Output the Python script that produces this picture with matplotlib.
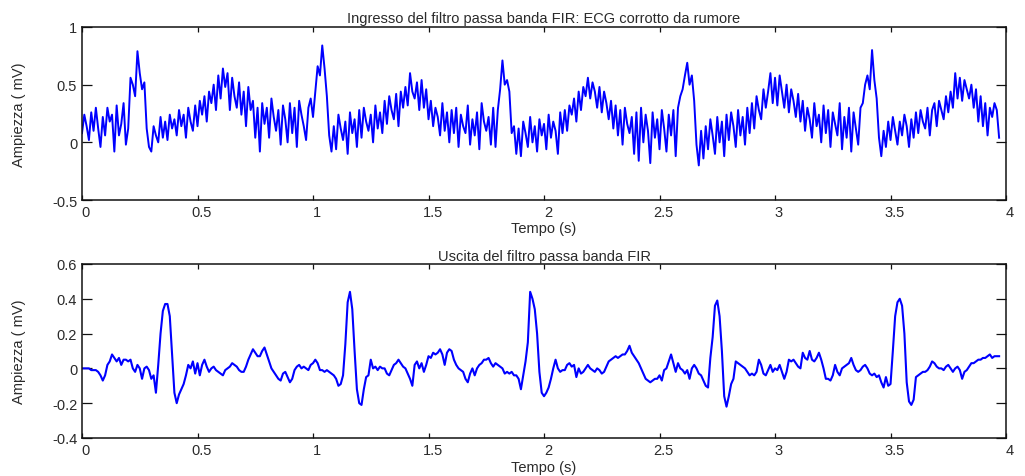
import numpy as np
import matplotlib
matplotlib.use("Agg")
import matplotlib.pyplot as plt
import matplotlib.transforms as mtransforms
from matplotlib.ticker import FormatStrFormatter

plt.rcParams["font.family"] = ["Liberation Sans", "DejaVu Sans"]

FS = 100  # campioni al secondo

# ECG rumoroso in ingresso al filtro (centesimi di mV)
ingresso_cmv = [
    8, 24, 14, 2, 26, 10, 30, 12, -4, 22,
    6, 30, 18, 24, -8, 32, 6, 16, 34, -2,
    12, 56, 50, 40, 79, 60, 46, 52, 12, -4,
    -8, 14, 6, 0, 22, 4, 18, 2, 24, 12,
    20, 6, 28, 14, 24, 4, 30, 18, 10, 32,
    14, 36, 24, 40, 18, 44, 34, 50, 28, 58,
    38, 64, 48, 60, 28, 56, 40, 30, 52, 24,
    44, 14, 48, 28, 36, 4, 30, -8, 34, 16,
    30, 4, 38, 22, 10, 28, -2, 32, 20, 0,
    34, 8, 30, -4, 36, 24, 14, 2, 30, 38,
    22, 44, 66, 58, 84, 64, 40, 6, -8, 14,
    -6, 24, 12, 2, 18, -10, 26, 8, 20, -4,
    28, 4, 30, 18, 10, 24, 0, 32, 12, 26,
    8, 36, 16, 40, 28, 20, 42, 14, 44, 30,
    48, 32, 60, 44, 38, 52, 28, 54, 30, 46,
    20, 36, 14, 30, 22, 6, 34, 10, 26, 0,
    28, 8, 30, -4, 24, 14, 8, 32, -2, 20,
    6, 26, -6, 34, 18, 10, 22, -2, 30, -4,
    28, 46, 71, 50, 54, 44, 8, 14, -10, 12,
    -12, 18, 8, -4, 22, 0, 14, -8, 20, 6,
    16, -6, 24, 4, 18, 10, -10, 26, 8, 28,
    10, 32, 24, 38, 18, 44, 28, 48, 40, 56,
    38, 52, 44, 30, 48, 26, 44, 34, 20, 36,
    12, 32, 6, 28, -2, 30, 16, 8, 22, -10,
    26, -16, 30, 0, 24, 10, -18, 26, 4, 20,
    -6, 28, 12, -8, 24, 6, 28, -12, 30, 40,
    46, 58, 69, 50, 58, 36, -2, -20, 10, -14,
    14, -6, 20, 6, -10, 22, 0, 18, -12, 24,
    2, 26, 14, -4, 28, 6, 22, -2, 30, 8,
    34, 12, 40, 28, 20, 46, 30, 44, 60, 34,
    56, 32, 58, 44, 30, 50, 26, 46, 36, 22,
    42, 18, 36, 10, 30, 20, 4, 34, 14, 24,
    0, 32, 8, 28, -4, 26, 16, 6, 34, -6,
    22, 4, 30, -8, 26, 12, -2, 30, 34, 50,
    58, 46, 80, 54, 38, 4, -12, 10, -4, 18,
    2, 22, 10, -2, 18, 6, 24, 14, -4, 20,
    4, 26, 8, 28, 18, 12, 30, 6, 28, 34,
    14, 36, 28, 20, 40, 26, 44, 30, 60, 38,
    56, 36, 54, 46, 38, 50, 30, 46, 18, 40,
    14, 34, 6, 30, 22, 34, 28, 4,
]

# uscita del filtro FIR passa banda (centesimi di mV)
uscita_cmv = [
    0, 0, 0, 0, -1, -1, -1, -2, -4, -7,
    -4, 2, 4, 8, 6, 4, 6, 2, 5, 5,
    4, 5, 0, -2, 2, 0, -6, 0, 1, -1,
    -6, -4, -14, 2, 20, 33, 37, 37, 30, 8,
    -14, -20, -15, -12, -9, -4, 2, 0, 4, -3,
    3, -4, 2, 5, 1, -2, 0, 1, -1, -2,
    -3, -4, -1, 0, 1, 3, 2, 1, -1, -2,
    -2, 1, 5, 8, 11, 9, 7, 7, 10, 12,
    8, 4, 0, -2, -4, -6, -7, -3, -2, -5,
    -8, -6, -1, 1, 2, 0, 1, 0, -1, 2,
    3, 5, 3, -1, -1, -2, -1, -2, -3, -4,
    -6, -10, -9, -4, 14, 38, 44, 34, 10, -12,
    -20, -21, -12, -5, -4, 5, 0, 1, -1, 1,
    0, 0, -3, -4, -1, 2, 3, 5, 3, 1,
    0, -3, -6, -10, 2, 4, 0, 3, -2, 2,
    7, 6, 9, 8, 9, 11, 8, 2, 9, 11,
    10, 5, 2, 0, -1, -2, -6, -8, -3, 0,
    -4, 0, 2, 3, 5, 5, 6, 3, 1, 3,
    2, 1, 0, -3, -2, -3, -2, -4, -4, -6,
    -12, -4, 4, 15, 44, 40, 34, 20, -2, -14,
    -16, -14, -11, -6, 0, 5, 0, -2, -1, -1,
    2, 3, 1, 2, -5, 0, -3, -2, 0, 2,
    0, -1, -2, 0, -1, -3, -2, 1, 4, 5,
    6, 7, 6, 7, 8, 8, 10, 13, 9, 7,
    5, 3, 0, -3, -6, -7, -8, -7, -6, -6,
    -4, -7, -1, 0, 4, 8, 3, -2, 3, 0,
    -1, -3, -1, -6, 0, 2, 0, -3, -4, -7,
    -10, -11, 6, 18, 36, 39, 30, 10, -16, -22,
    -16, -9, -6, 4, 3, 2, 1, 0, -2, -4,
    -3, -4, -2, 5, 2, -3, -4, -1, 2, -2,
    0, -1, 2, -2, -6, -2, 5, 4, 5, 3,
    1, 0, 9, 6, 5, 10, 5, 4, 6, 9,
    5, 0, -6, -6, -7, -4, 2, -2, -4, 0,
    1, 2, 3, 6, 2, -1, -2, -1, 1, 2,
    0, -3, -4, -3, -5, -4, -8, -11, -5, -10,
    -9, 10, 30, 38, 40, 36, 20, -8, -19, -21,
    -18, -5, -4, -3, -2, -2, -1, 1, 4, 3,
    1, 0, 0, -1, 1, 2, 0, -2, 0, 1,
    -1, -6, -2, -1, 1, 3, 3, 4, 5, 5,
    6, 6, 7, 8, 6, 7, 7, 7,
]

x_ticks = [0, 0.5, 1, 1.5, 2, 2.5, 3, 3.5, 4]
y_ticks_in = [-0.5, 0, 0.5, 1]
y_ticks_out = [-0.4, -0.2, 0, 0.2, 0.4, 0.6]

titles = ["Ingresso del filtro passa banda FIR: ECG corrotto da rumore",
          "Uscita del filtro passa banda FIR"]

fig = plt.figure(figsize=(10.25, 4.77), dpi=100)
ax1 = fig.add_axes([0.080, 0.5786, 0.9015, 0.3627])
ax2 = fig.add_axes([0.080, 0.0797, 0.9015, 0.3648])

text_col = "#2a2a2a"
FSIZE = 10.5


def style(ax, yticks, title, title_pad, label_y):
    ax.set_xlim(0, 4)
    ax.set_ylim(yticks[0], yticks[-1])
    ax.set_xticks(x_ticks)
    ax.set_yticks(yticks)
    ax.xaxis.set_major_formatter(FormatStrFormatter("%g"))
    ax.yaxis.set_major_formatter(FormatStrFormatter("%g"))
    ax.tick_params(axis="both", direction="in", top=True, right=True,
                   labelsize=FSIZE, colors="#111111", labelcolor=text_col,
                   width=0.9)
    ax.tick_params(axis="x", length=3.6, pad=3.5)
    ax.tick_params(axis="y", length=7, pad=3.5)
    for s in ax.spines.values():
        s.set_linewidth(1.1)
        s.set_color("#111111")
    ax.set_title(title, fontsize=FSIZE, color=text_col, pad=title_pad)
    ax.set_xlabel("Tempo (s)", fontsize=FSIZE, color=text_col)
    ax.set_ylabel("Ampiezza ( mV)", fontsize=FSIZE, color=text_col)
    ax.xaxis.set_label_coords(0.5, label_y)
    ax.yaxis.set_label_coords(-0.061, 0.5)
    # etichette dell'asse x leggermente spostate a destra
    shift = mtransforms.ScaledTranslation(4 / 100, 0, fig.dpi_scale_trans)
    for lab in ax.get_xticklabels():
        lab.set_transform(lab.get_transform() + shift)


y_in = np.array(ingresso_cmv) / 100.0
y_out = np.array(uscita_cmv) / 100.0
t_in = np.arange(len(y_in)) / FS
t_out = np.arange(len(y_out)) / FS

ax1.plot(t_in, y_in, color="#0000ff", linewidth=1.4)
ax2.plot(t_out, y_out, color="#0000ff", linewidth=1.5)

style(ax1, y_ticks_in, titles[0], 3.6, -0.12)
style(ax2, y_ticks_out, titles[1], 2.9, -0.125)

fig.savefig("out.png", dpi=100)
